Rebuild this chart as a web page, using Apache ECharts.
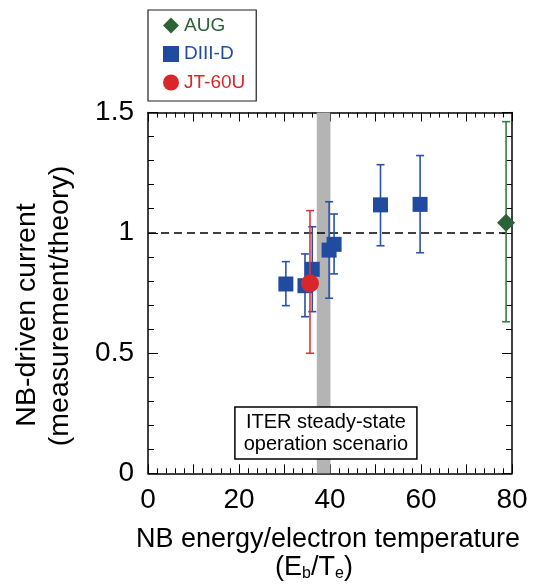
<!DOCTYPE html>
<html>
<head>
<meta charset="utf-8">
<script src="https://cdn.jsdelivr.net/npm/echarts@6/dist/echarts.min.js"></script>
<style>html,body{margin:0;padding:0;background:#fff}#c{width:536px;height:588px}</style>
</head>
<body>
<div id="c"></div>
<script>
// ---- data ----
const diiidX = [30.3, 34.5, 36.1, 39.8, 40.9, 51.1, 59.8];
const diiidY = [0.787, 0.780, 0.848, 0.928, 0.952, 1.116, 1.118];
const diiidLow = [0.697, 0.651, 0.672, 0.728, 0.829, 0.946, 0.917];
const diiidHigh = [0.880, 0.912, 1.025, 1.129, 1.078, 1.283, 1.321];

const jtX = [35.6];
const jtY = [0.790];
const jtLow = [0.499];
const jtHigh = [1.092];

const augX = [78.7];
const augY = [1.042];
const augLow = [0.630];
const augHigh = [1.462];

const iterBand = [37.1, 40.1];
const referenceLevel = 1.0;

const xTicks = [0, 20, 40, 60, 80];
const yTicks = [0, 0.5, 1, 1.5];

const FONT = '"Liberation Sans", Arial, Helvetica, sans-serif';
const BLUE = '#214b9e', BLUE_E = '#2b52a8';
const RED = '#d9262b', RED_E = '#d8383c';
const GREEN = '#2b6236', GREEN_E = '#3b7a46';

function pts(xs, ys) { return xs.map((x, i) => [x, ys[i]]); }
function errs(xs, lo, hi) { return xs.map((x, i) => [x, lo[i], hi[i]]); }

function errRender(color) {
  return function (params, api) {
    const x = api.value(0), lo = api.value(1), hi = api.value(2);
    const a = api.coord([x, lo]), b = api.coord([x, hi]);
    const w = 4;
    const style = { stroke: color, lineWidth: 1.6 };
    return {
      type: 'group',
      children: [
        { type: 'line', shape: { x1: a[0], y1: a[1], x2: b[0], y2: b[1] }, style },
        { type: 'line', shape: { x1: a[0] - w, y1: a[1], x2: a[0] + w, y2: a[1] }, style },
        { type: 'line', shape: { x1: b[0] - w, y1: b[1], x2: b[0] + w, y2: b[1] }, style }
      ]
    };
  };
}

const chart = echarts.init(document.getElementById('c'), null, { renderer: 'canvas' });

const axisCommonX = {
  type: 'value', min: 0, max: 80, interval: 10,
  splitLine: { show: false },
  axisLine: { show: true, onZero: false, lineStyle: { color: '#000', width: 1.5 } },
  axisTick: { show: true, inside: true, length: 9, lineStyle: { color: '#000', width: 1 } },
  minorTick: { show: true, splitNumber: 5, length: 5, lineStyle: { color: '#000', width: 1 } }
};
const axisCommonY = {
  type: 'value', min: 0, max: 1.5, interval: 0.5,
  splitLine: { show: false },
  axisLine: { show: true, onZero: false, lineStyle: { color: '#000', width: 1.5 } },
  axisTick: { show: true, inside: true, length: 10, lineStyle: { color: '#000', width: 1 } },
  minorTick: { show: true, splitNumber: 5, length: 6, lineStyle: { color: '#000', width: 1 } }
};

chart.setOption({
  animation: false,
  backgroundColor: '#fff',
  textStyle: { fontFamily: FONT },
  grid: { left: 148, right: 24, top: 112.5, bottom: 114.7, containLabel: false },
  legend: {
    orient: 'vertical', left: 148, top: 10,
    borderColor: '#222', borderWidth: 1.2, backgroundColor: '#fff',
    padding: [6, 11, 9, 15],
    itemWidth: 16, itemHeight: 16, itemGap: 9.5,
    textStyle: { fontSize: 19, fontFamily: FONT },
    data: [
      { name: 'AUG', icon: 'diamond', textStyle: { color: GREEN } },
      { name: 'DIII-D', icon: 'rect', textStyle: { color: BLUE } },
      { name: 'JT-60U', icon: 'circle', textStyle: { color: RED } }
    ]
  },
  xAxis: [
    Object.assign({}, axisCommonX, {
      position: 'bottom',
      axisLabel: {
        show: true, margin: 13, fontSize: 28, color: '#000', fontFamily: FONT,
        formatter: v => (xTicks.indexOf(v) >= 0 ? String(v) : '')
      }
    }),
    Object.assign({}, axisCommonX, { position: 'top', axisLabel: { show: false } })
  ],
  yAxis: [
    Object.assign({}, axisCommonY, {
      position: 'left',
      axisLabel: {
        show: true, margin: 14, fontSize: 28, color: '#000', fontFamily: FONT,
        formatter: v => (yTicks.indexOf(v) >= 0 ? String(v) : '')
      }
    }),
    Object.assign({}, axisCommonY, { position: 'right', axisLabel: { show: false } })
  ],
  series: [
    {
      name: 'annotations', type: 'scatter', data: [], silent: true,
      markArea: {
        silent: true,
        data: [
          [
            { coord: [iterBand[0], 0], itemStyle: { color: '#b4b4b4', borderWidth: 0 }, label: { show: false } },
            { coord: [iterBand[1], 1.5] }
          ],
          [
            {
              coord: [19.1, 0.276],
              itemStyle: { color: '#fff', borderColor: '#000', borderWidth: 1.5 },
              label: {
                show: true, position: 'inside', color: '#000', fontSize: 20, lineHeight: 22,
                fontFamily: FONT, align: 'center',
                formatter: 'ITER steady-state\noperation scenario'
              }
            },
            { coord: [59.1, 0.059] }
          ]
        ]
      },
      markLine: {
        silent: true, symbol: 'none', z: 1,
        lineStyle: { color: '#000', type: [8, 5], width: 1.6 },
        label: { show: false },
        data: [[{ coord: [0, referenceLevel] }, { coord: [80, referenceLevel] }]]
      }
    },
    {
      name: 'DIII-D err', type: 'custom', renderItem: errRender(BLUE_E),
      data: errs(diiidX, diiidLow, diiidHigh), encode: { x: 0, y: [1, 2] }, z: 3, silent: true
    },
    {
      name: 'DIII-D', type: 'scatter', symbol: 'rect', symbolSize: 15,
      itemStyle: { color: BLUE, opacity: 1 }, data: pts(diiidX, diiidY), z: 4
    },
    {
      name: 'JT-60U err', type: 'custom', renderItem: errRender(RED_E),
      data: errs(jtX, jtLow, jtHigh), encode: { x: 0, y: [1, 2] }, z: 5, silent: true
    },
    {
      name: 'JT-60U', type: 'scatter', symbol: 'circle', symbolSize: 18,
      itemStyle: { color: RED, opacity: 1 }, data: pts(jtX, jtY), z: 6
    },
    {
      name: 'AUG err', type: 'custom', renderItem: errRender(GREEN_E),
      data: errs(augX, augLow, augHigh), encode: { x: 0, y: [1, 2] }, z: 5, silent: true
    },
    {
      name: 'AUG', type: 'scatter', symbol: 'diamond', symbolSize: 18,
      itemStyle: { color: GREEN, opacity: 1 }, data: pts(augX, augY), z: 6
    }
  ],
  graphic: [
    {
      type: 'text', x: 328, y: 540,
      style: { text: 'NB energy/electron temperature', font: '27px ' + FONT, fill: '#000', align: 'center', verticalAlign: 'middle' }
    },
    {
      type: 'text', x: 314, y: 568,
      style: {
        text: '(E{sub|b}/T{sub|e})', fill: '#000', align: 'center', verticalAlign: 'middle',
        font: '27px ' + FONT,
        rich: { sub: { fontSize: 16, fontFamily: FONT, padding: [12, 0, 0, 0], fill: '#000' } }
      }
    },
    {
      type: 'text', x: 27, y: 315, rotation: Math.PI / 2,
      style: { text: 'NB-driven current', font: '28.5px ' + FONT, fill: '#000', align: 'center', verticalAlign: 'middle' }
    },
    {
      type: 'text', x: 60, y: 306, rotation: Math.PI / 2,
      style: { text: '(measurement/theory)', font: '28.5px ' + FONT, fill: '#000', align: 'center', verticalAlign: 'middle' }
    }
  ]
});
</script>
</body>
</html>
